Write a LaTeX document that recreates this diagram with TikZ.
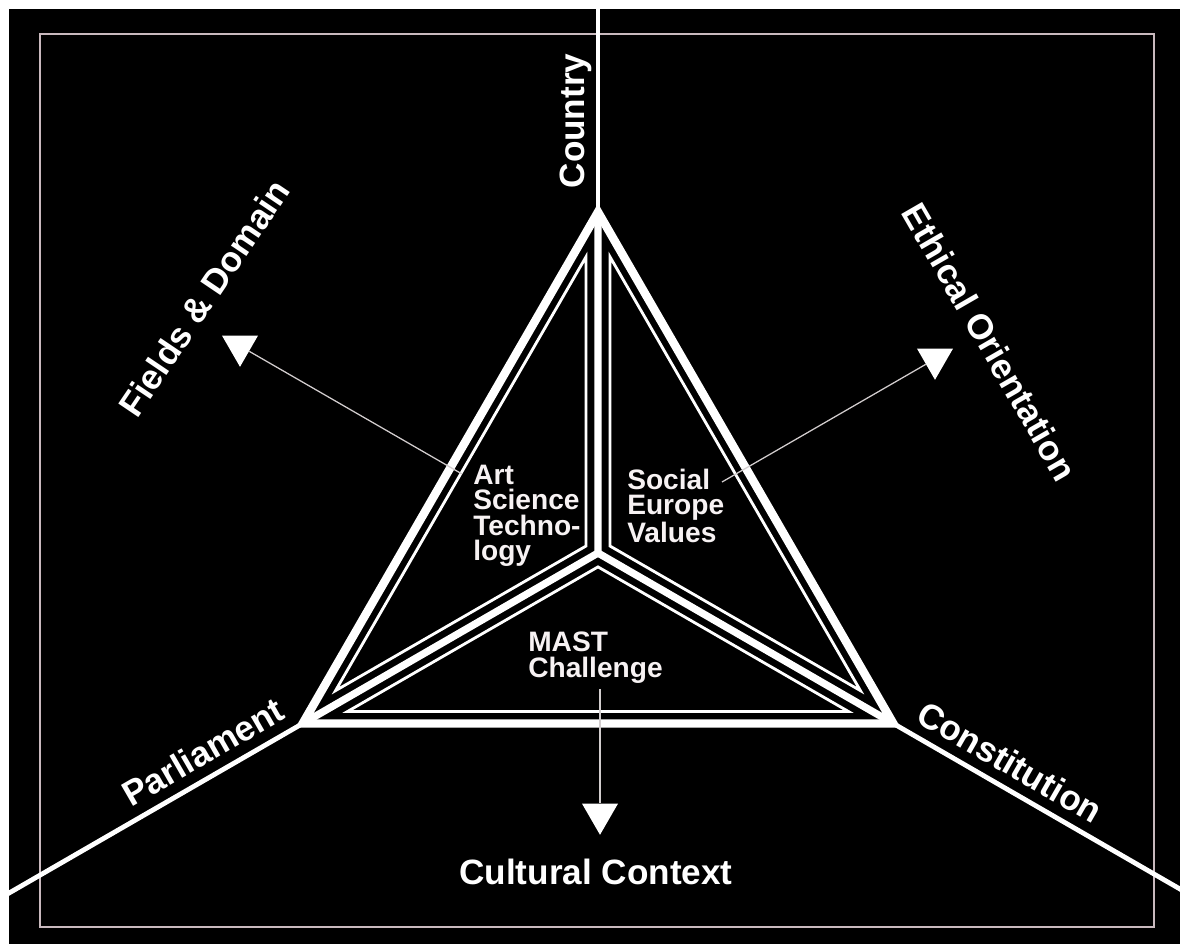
\documentclass[tikz,border=0pt]{standalone}
\usepackage{fontspec}
\setmainfont{Liberation Sans}
\usepackage{xcolor}
\usetikzlibrary{
  calc,
  shapes.geometric
}
\definecolor{FrameGray}{HTML}{C9B9BE}
\definecolor{PointerGray}{HTML}{D2CDCE}
\definecolor{TextWhite}{HTML}{F7F2F3}
\tikzset{
  outline/.style={
    draw=white,
    line width=6pt,
    line join=miter
  },
  spoke/.style={
    draw=white,
    line width=5.2pt,
    line join=miter
  },
  inset/.style={
    draw=white,
    line width=2pt,
    line join=miter
  },
  ray/.style={
    draw=white,
    line width=3.4pt
  },
  pointer/.style={
    draw=PointerGray,
    line width=0.9pt
  },
  marker/.style={
    regular polygon,
    regular polygon sides=3,
    shape border rotate=180,
    fill=white,
    inner sep=0pt,
    minimum size=1.04cm
  },
  biglabel/.style={
    text=white,
    font=\fontsize{25}{30}\selectfont\bfseries,
    inner sep=0pt
  },
  smalllabel/.style={
    text=TextWhite,
    font=\fontsize{20}{18}\selectfont\bfseries,
    align=left,
    inner sep=0pt,
    anchor=north west
  }
}

\begin{document}
\begin{tikzpicture}[
  x=0.025cm,
  y=-0.025cm
]

  \useasboundingbox (0,0) rectangle (1180,944);
  \fill[black] (9,9) rectangle (1180,944);
  \draw[FrameGray, line width=1.4pt] (40,34) rectangle (1154,927);

  % corners and centre of the big triangle
  \coordinate (centre) at (598,553);
  \coordinate (top) at (598,212);
  \coordinate (left) at (302.7,723.5);
  \coordinate (right) at (893.3,723.5);

  % rays out to the border
  \begin{scope}
    \clip (9,9) rectangle (1180,944);
    \draw[ray] (top) -- ($(centre)!1.7!(top)$);
    \draw[ray] (left) -- ($(centre)!2.05!(left)$);
    \draw[ray] (right) -- ($(centre)!2.05!(right)$);
  \end{scope}

  % thin triangles inside the three parts
  \foreach \a/\b in {top/left, left/right, right/top} {
    \coordinate (mid) at ($(\a)!0.5!(\b)$);
    \coordinate (in) at ($(centre)!0.536!(mid)$);
    \draw[inset]
    ($(in)!0.848!(\a)$) --
    ($(in)!0.848!(\b)$) --
    ($(in)!0.848!(centre)$) -- cycle;
  }

  \draw[spoke] (top) -- (centre) -- (left);
  \draw[spoke] (centre) -- (right);
  \draw[outline] (top) -- (left) -- (right) -- cycle;

  % pointers
  \node[marker] (fieldsmark) at (240,346) {};
  \node[marker] (ethicsmark) at (935,359) {};
  \node[marker] (culturemark) at (600,814) {};
  \coordinate (artstart) at (462,474);
  \coordinate (socialstart) at (722,482);
  \coordinate (maststart) at (600,689);
  \draw[pointer] (artstart) -- (fieldsmark);
  \draw[pointer] (socialstart) -- (ethicsmark);
  \draw[pointer] (maststart) -- (culturemark);

  % outer labels
  \node[biglabel, rotate=90] (country) at (576,121) {Country};
  \node[biglabel, rotate=56] (fields) at (204,298) {Fields \& Domain};
  \node[biglabel, rotate=-60] (ethics) at (990,342) {Ethical Orientation};
  \node[biglabel, rotate=30] (parliament) at (203,752) {Parliament};
  \node[biglabel, rotate=-30] (constitution) at (1010,762) {Constitution};
  \node[biglabel] (culture) at (596,872) {Cultural Context};

  % inner labels
  \node[smalllabel] (ast) at (473,465) {Art\\Science\\Techno-\\logy};
  \node[smalllabel] (sev) at (627,469) {Social\\Europe\\Values};
  \node[smalllabel] (mast) at (528,632) {MAST\\Challenge};

\end{tikzpicture}
\end{document}
